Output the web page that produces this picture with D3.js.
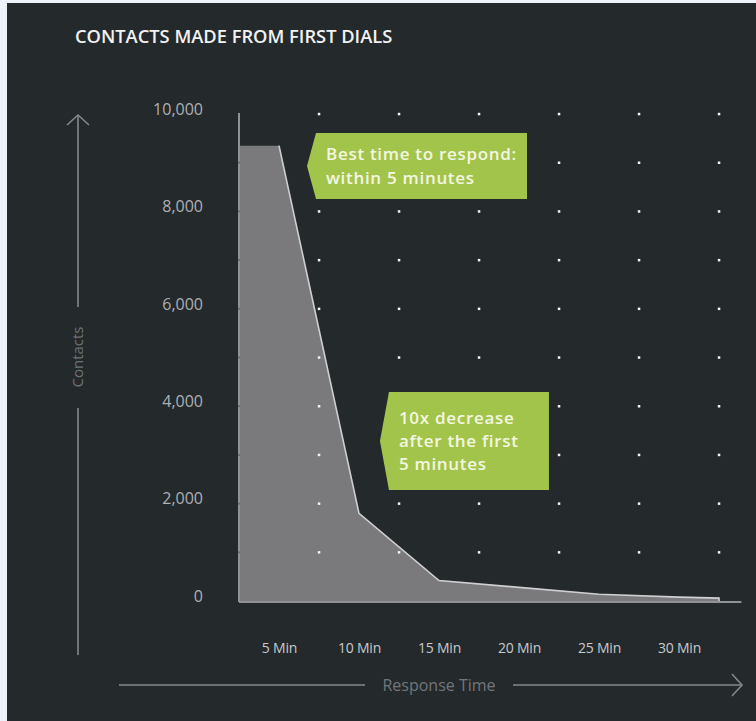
<!DOCTYPE html>
<html>
<head>
<meta charset="utf-8">
<script src="https://cdn.jsdelivr.net/npm/d3@7"></script>
<style>
  html, body { margin: 0; padding: 0; background: #eef3fb; }
  svg { display: block; font-family: "Open Sans", "Noto Sans", sans-serif; }
</style>
</head>
<body>
<svg id="chart" width="756" height="721"></svg>
<script>
// Response time (minutes) and contacts reached at each point of the curve
const minutes  = [2.5, 5, 10, 15, 20, 25, 30, 32.5];
const contacts = [9350, 9350, 1800, 420, 280, 140, 80, 60];

// Axis ticks
const xTicks = [5, 10, 15, 20, 25, 30];
const xTickLabels = ["5 Min", "10 Min", "15 Min", "20 Min", "25 Min", "30 Min"];
const yTicks = [0, 2000, 4000, 6000, 8000, 10000];
// Dot grid positions
const gridMinutes = [7.5, 12.5, 17.5, 22.5, 27.5, 32.5];
const gridContacts = [1000, 2000, 3000, 4000, 5000, 6000, 7000, 8000, 9000, 10000];

const title = "CONTACTS MADE FROM FIRST DIALS";
const notes = [
  { lines: ["Best time to respond:", "within 5 minutes"], m: 6.75, v: 8930, w: 211, h: 66 },
  { lines: ["10x decrease", "after the first", "5 minutes"], m: 11.31, v: 3285, w: 160, h: 98 }
];

const svg = d3.select("#chart");

// Dark panel
svg.append("rect").attr("x", 7).attr("y", 3).attr("width", 749).attr("height", 718).attr("fill", "#24292c");

const x = d3.scaleLinear().domain([2.5, 32.5]).range([239, 719]);
const y = d3.scaleLinear().domain([0, 10000]).range([601, 114]);

// Title
svg.append("text")
  .attr("x", 75).attr("y", 43)
  .attr("fill", "#f2f2f2")
  .attr("font-size", 18.3).attr("font-weight", 600)
  .text(title);

// Area under the curve
const pts = minutes.map((m, i) => [m, contacts[i]]);
svg.append("path")
  .datum(pts)
  .attr("fill", "#7a7a7d")
  .attr("d", d3.area().x(d => x(d[0])).y0(y(0)).y1(d => y(d[1])));

// Axis lines
const axisColor = "#8f9296";
svg.append("line").attr("x1", x(2.5)).attr("x2", x(2.5)).attr("y1", y(10000) - 1).attr("y2", y(0) + 1)
  .attr("stroke", axisColor).attr("stroke-width", 2);
svg.append("line").attr("x1", x(2.5)).attr("x2", x(33.9)).attr("y1", y(0) + 1).attr("y2", y(0) + 1)
  .attr("stroke", axisColor).attr("stroke-width", 2);

// Curve outline, including the drop at its end
const outline = pts.concat([[minutes[minutes.length - 1], 0]]).slice(1);
svg.append("path")
  .datum(outline)
  .attr("fill", "none")
  .attr("stroke", "#cfcfd1")
  .attr("stroke-width", 1.6)
  .attr("d", d3.line().x(d => x(d[0])).y(d => y(d[1])));

// Dot grid
const dots = [];
gridMinutes.forEach(m => gridContacts.forEach(v => dots.push([m, v])));
svg.append("g").selectAll("rect").data(dots).join("rect")
  .attr("x", d => x(d[0]) - 1.2).attr("y", d => y(d[1]) - 1.2)
  .attr("width", 2.5).attr("height", 2.5)
  .attr("fill", "#f4f4f4");
// faint ticks on the vertical axis
svg.append("g").selectAll("rect").data(gridContacts.slice(0, 9)).join("rect")
  .attr("x", x(2.5) - 1).attr("y", d => y(d) - 1)
  .attr("width", 2).attr("height", 2)
  .attr("fill", "#6d7074");

// Y axis labels
const yAxis = svg.append("g").attr("transform", `translate(${x(2.5)},0)`)
  .call(d3.axisLeft(y).tickValues(yTicks).tickFormat(d3.format(",")).tickSize(0).tickPadding(36));
yAxis.select(".domain").remove();
yAxis.selectAll("text")
  .attr("fill", "#aeb0b3").attr("font-size", 16)
  .attr("font-family", "'Open Sans', sans-serif")
  .attr("dy", "0.02em");

// X axis labels
const xAxis = svg.append("g").attr("transform", `translate(0,${y(0)})`)
  .call(d3.axisBottom(x).tickValues(xTicks).tickFormat((d, i) => xTickLabels[i]).tickSize(0).tickPadding(0));
xAxis.select(".domain").remove();
xAxis.selectAll("text")
  .attr("fill", "#c8cacc").attr("font-size", 14)
  .attr("font-family", "'Open Sans', sans-serif")
  .attr("letter-spacing", "-0.2")
  .attr("y", 52).attr("dy", 0);

// Callouts: arrow-tagged boxes with vertically centred text
const lineGap = 23.3;
notes.forEach(n => {
  const tx = x(n.m), ty = y(n.v);
  const left = tx + 9, top = ty - n.h / 2;
  const g = svg.append("g");
  g.append("path")
    .attr("d", `M${tx},${ty} L${left},${top} H${left + n.w} V${top + n.h} H${left} Z`)
    .attr("fill", "#a3c44b");
  const first = ty - (n.lines.length - 1) * lineGap / 2 + 6;
  g.selectAll("text").data(n.lines).join("text")
    .attr("x", left + 10)
    .attr("y", (d, i) => first + i * lineGap)
    .attr("fill", "#f3f7e2")
    .attr("font-size", 17).attr("font-weight", 600)
    .attr("letter-spacing", "0.7")
    .text(d => d);
});

// Vertical axis title with arrow
const vx = 78;
const arrowColor = "#84878b";
svg.append("line").attr("x1", vx).attr("x2", vx).attr("y1", 115).attr("y2", 307)
  .attr("stroke", arrowColor).attr("stroke-width", 1.6);
svg.append("line").attr("x1", vx).attr("x2", vx).attr("y1", 408).attr("y2", 655)
  .attr("stroke", arrowColor).attr("stroke-width", 1.6);
svg.append("path").attr("d", `M${vx - 11},${125} L${vx},${115} L${vx + 11},${125}`)
  .attr("fill", "none").attr("stroke", arrowColor).attr("stroke-width", 1.6);
svg.append("text")
  .attr("transform", `translate(${vx + 5},357) rotate(-90)`)
  .attr("text-anchor", "middle")
  .attr("fill", "#6e7377").attr("font-size", 15)
  .text("Contacts");

// Horizontal axis title with arrow
const hy = 685;
svg.append("line").attr("x1", 119).attr("x2", 365).attr("y1", hy).attr("y2", hy)
  .attr("stroke", arrowColor).attr("stroke-width", 1.6);
svg.append("line").attr("x1", 513).attr("x2", 742).attr("y1", hy).attr("y2", hy)
  .attr("stroke", arrowColor).attr("stroke-width", 1.6);
svg.append("path").attr("d", `M${732},${hy - 11} L${742},${hy} L${732},${hy + 11}`)
  .attr("fill", "none").attr("stroke", arrowColor).attr("stroke-width", 1.6);
svg.append("text")
  .attr("x", 439).attr("y", hy + 6)
  .attr("text-anchor", "middle")
  .attr("fill", "#71767a").attr("font-size", 16)
  .text("Response Time");
</script>
</body>
</html>
